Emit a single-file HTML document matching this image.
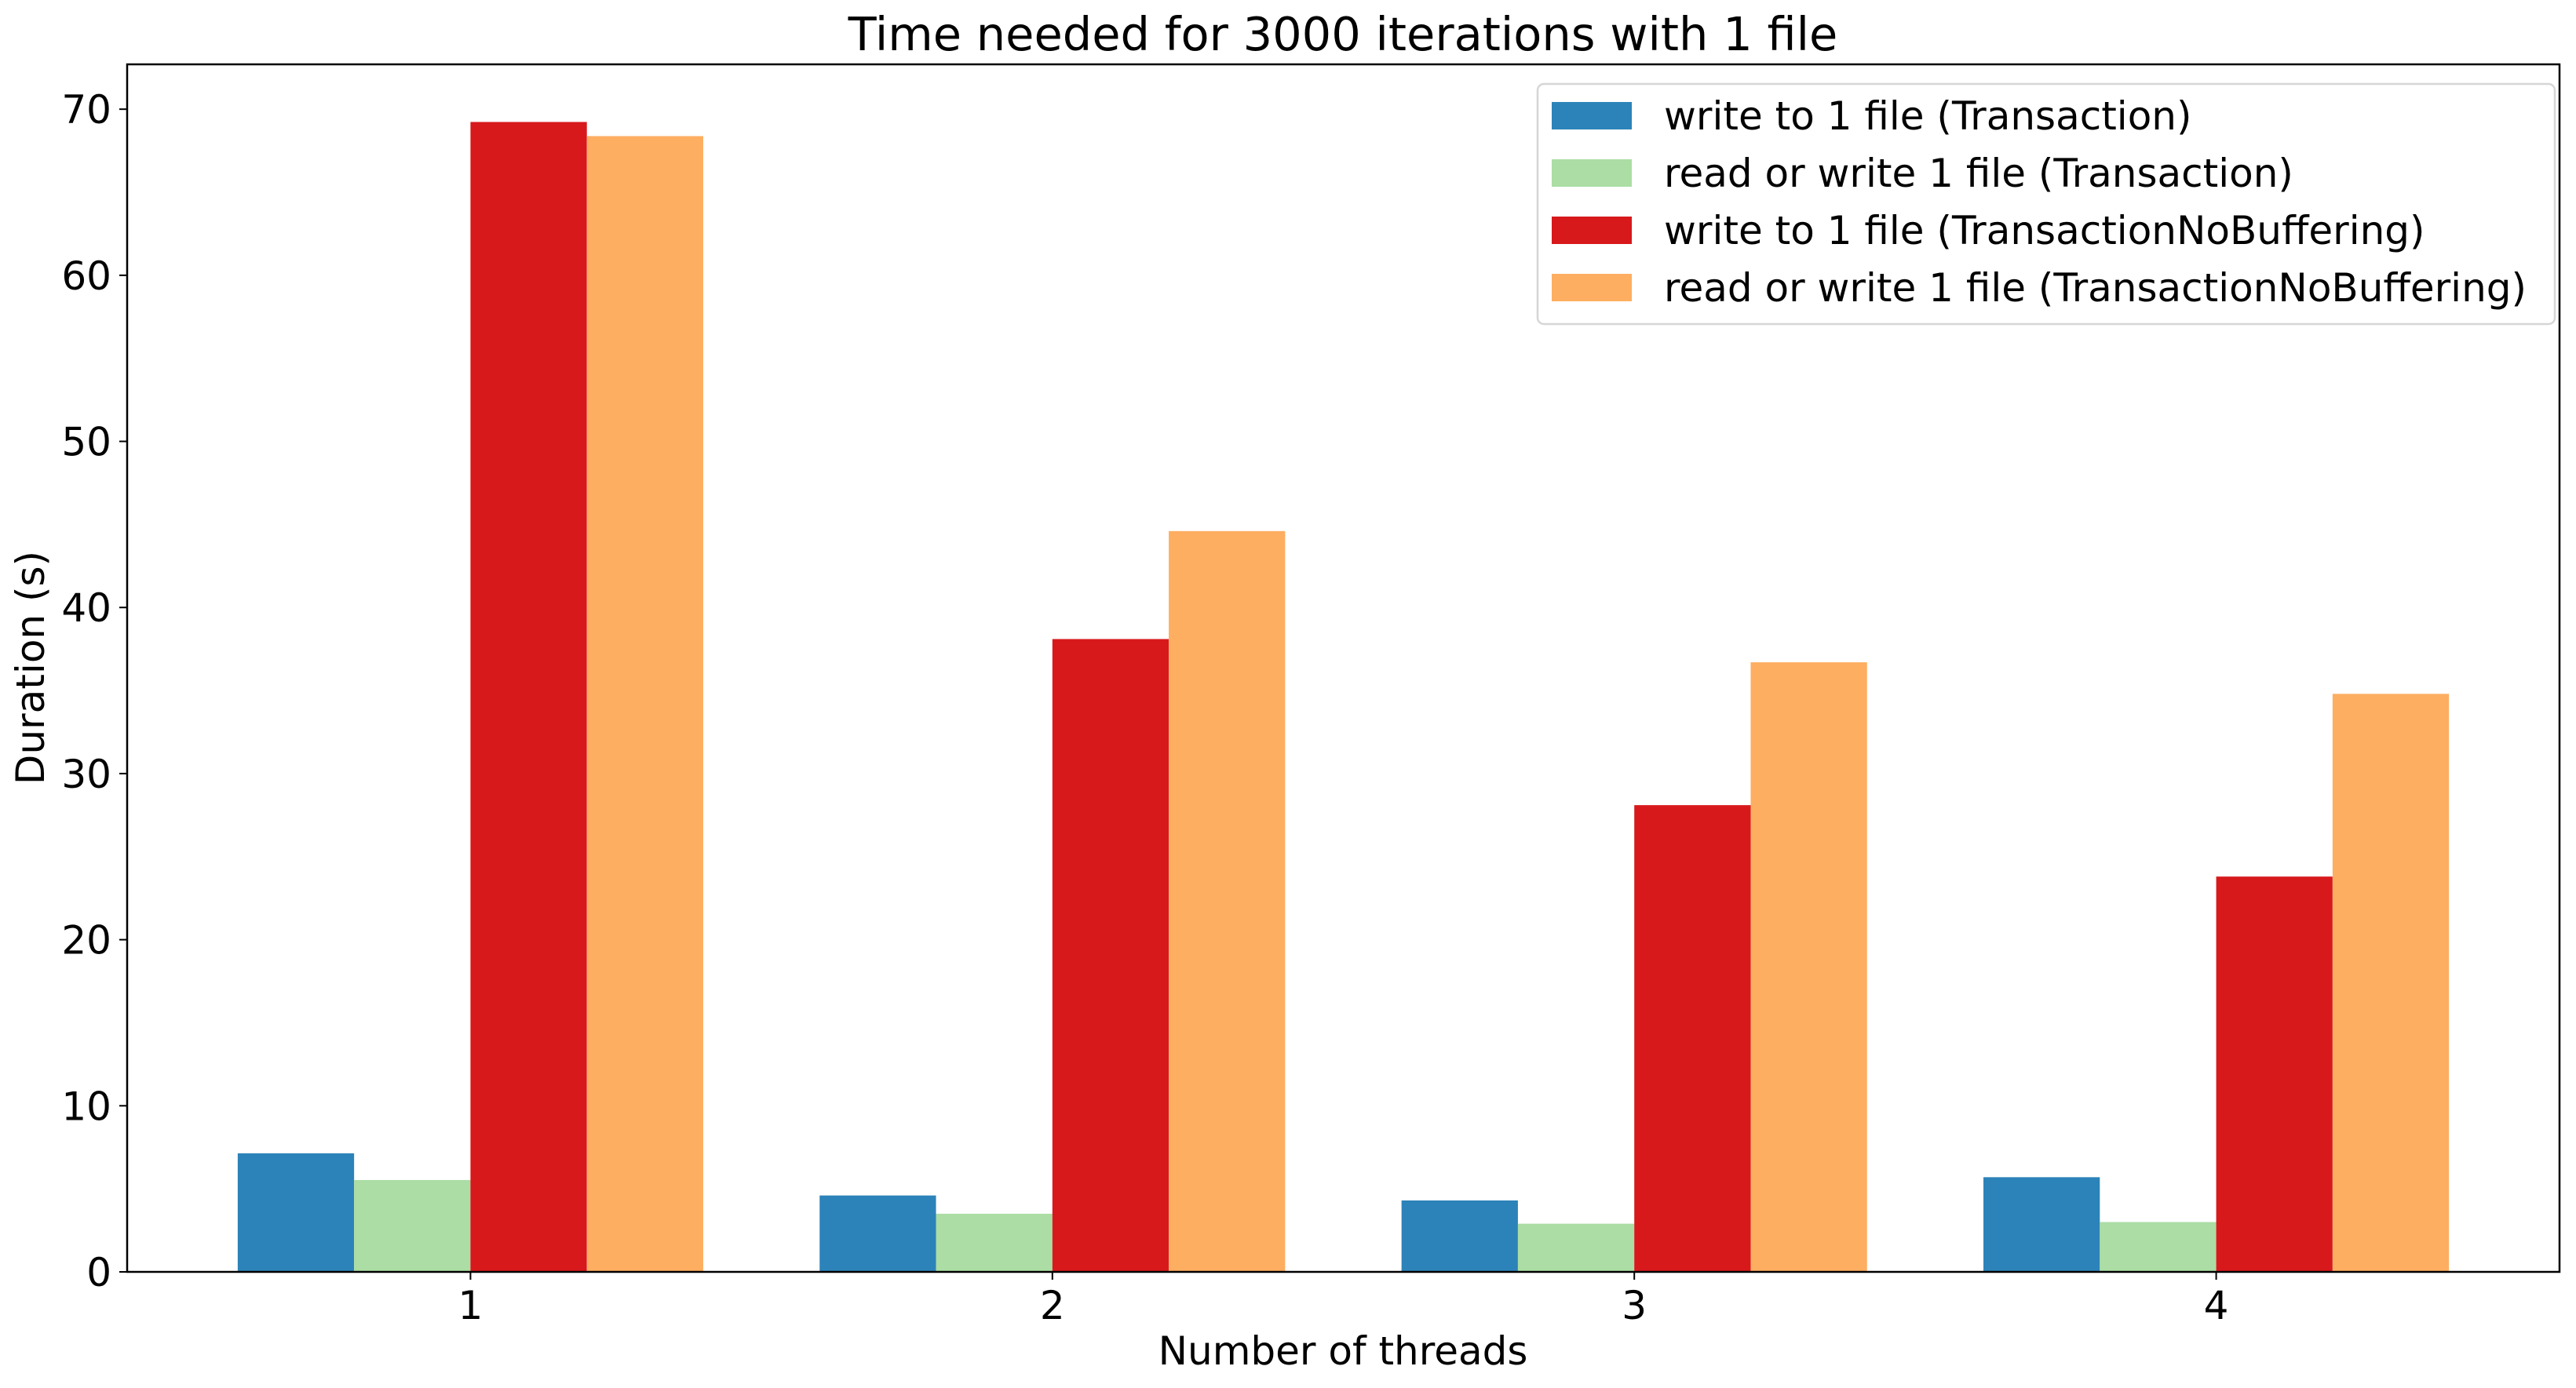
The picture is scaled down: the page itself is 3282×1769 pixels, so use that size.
<!DOCTYPE html>
<html><head><meta charset="utf-8"><style>
html,body{margin:0;padding:0;background:#fff;}
svg{display:block;font-family:"DejaVu Sans","Liberation Sans",sans-serif;}
</style></head><body>
<svg id="chart" width="3282" height="1769" viewBox="0 0 3282 1769" xmlns="http://www.w3.org/2000/svg">
<rect x="0" y="0" width="3282" height="1769" fill="#fff"/>
<text x="1711" y="64" font-size="59" text-anchor="middle">Time needed for 3000 iterations with 1 file</text>
<g id="bars"></g>
<g id="axes"></g>
<text x="1711" y="1739" font-size="50" text-anchor="middle">Number of threads</text>
<text transform="translate(56,851) rotate(-90)" font-size="50" text-anchor="middle">Duration (s)</text>
<g id="legend"></g>
</svg>
<script>
const categories = [1, 2, 3, 4];
const seriesNames = ["write to 1 file (Transaction)", "read or write 1 file (Transaction)", "write to 1 file (TransactionNoBuffering)", "read or write 1 file (TransactionNoBuffering)"];
const writeTx = [7.14, 4.6, 4.3, 5.7];
const readWriteTx = [5.53, 3.5, 2.9, 3.0];
const writeNoBuf = [69.23, 38.1, 28.1, 23.8];
const readWriteNoBuf = [68.38, 44.6, 36.7, 34.8];
const yTicks = [0, 10, 20, 30, 40, 50, 60, 70];
const colors = ["#2c83b9", "#abdda4", "#d7191c", "#fdae61"];

const NS = "http://www.w3.org/2000/svg";
const L = 162, R = 3261, T = 82, B = 1621;
const xMin = 0.41, xMax = 4.59, yMin = 0, yMax = 72.7;
function xs(v){ return L + (v - xMin) / (xMax - xMin) * (R - L); }
function ys(v){ return B - (v - yMin) / (yMax - yMin) * (B - T); }
function mk(tag, attrs, parent){ const e = document.createElementNS(NS, tag); for (const k in attrs) e.setAttribute(k, attrs[k]); parent.appendChild(e); return e; }

const series = [writeTx, readWriteTx, writeNoBuf, readWriteNoBuf];
const barW = 0.2;
const gBars = document.getElementById("bars");
series.forEach((vals, si) => {
  vals.forEach((v, ci) => {
    const x0 = xs(categories[ci] + (si - 2) * barW);
    const x1 = xs(categories[ci] + (si - 1) * barW);
    const r = mk("rect", {x: x0, y: ys(v), width: x1 - x0, height: ys(0) - ys(v), fill: colors[si]}, gBars);
    
    
  });
});

const gAx = document.getElementById("axes");
const frame = mk("rect", {x: L, y: T, width: R - L, height: B - T, fill: "none", stroke: "#000", "stroke-width": 2.5}, gAx);


yTicks.forEach(t => {
  const y = ys(t);
  const tk = mk("line", {x1: L - 10, x2: L, y1: y, y2: y, stroke: "#000", "stroke-width": 2}, gAx);
  
  
  const lb = mk("text", {x: L - 20, y: y + 18, "font-size": 50, "text-anchor": "end"}, gAx);
  lb.textContent = t;
  
  
});
categories.forEach(c => {
  const x = xs(c);
  const tk = mk("line", {x1: x, x2: x, y1: B, y2: B + 10, stroke: "#000", "stroke-width": 2}, gAx);
  
  
  const lb = mk("text", {x: x, y: B + 60, "font-size": 50, "text-anchor": "middle"}, gAx);
  lb.textContent = c;
  
  
});

const gLeg = document.getElementById("legend");
const box = mk("rect", {x: 1959, y: 107, width: 1296, height: 306, rx: 8, fill: "#fff", "fill-opacity": 0.8, stroke: "#d6d6d6", "stroke-width": 2.5}, gLeg);


seriesNames.forEach((n, i) => {
  const cy = 147 + i * 73;
  const p = mk("rect", {x: 1977, y: cy - 17, width: 102, height: 35, fill: colors[i]}, gLeg);
  
  
  const t = mk("text", {x: 2120, y: cy + 18, "font-size": 50}, gLeg);
  t.textContent = n;
  
  
});
</script>
</body></html>
